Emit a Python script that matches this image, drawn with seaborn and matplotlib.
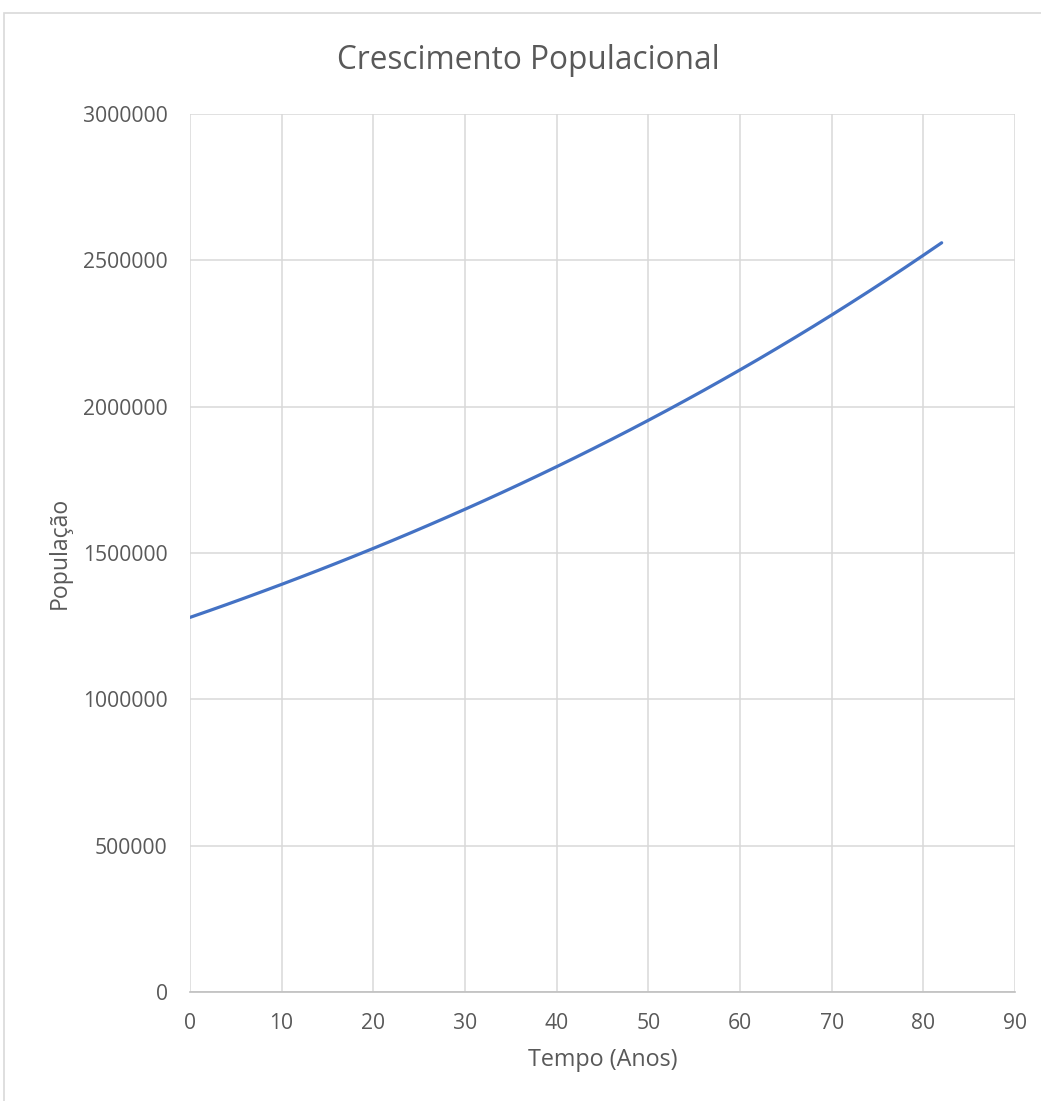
import matplotlib
matplotlib.use("Agg")
import matplotlib.pyplot as plt
from matplotlib.patches import Rectangle
import seaborn as sns
import pandas as pd

# Population over time (years)
anos = [0, 2, 4, 6, 8, 10, 12, 14, 16, 18, 20, 22, 24, 26, 28, 30, 32, 34, 36, 38, 40,
        42, 44, 46, 48, 50, 52, 54, 56, 58, 60, 62, 64, 66, 68, 70, 72, 74, 76, 78, 80, 82]
populacao = [1280000, 1301800, 1324000, 1346600, 1369600, 1392900, 1416700, 1440800,
             1465400, 1490400, 1515800, 1541600, 1567900, 1594700, 1621900, 1649500,
             1677600, 1706200, 1735300, 1764900, 1795000, 1825600, 1856800, 1888400,
             1920600, 1953400, 1986700, 2020600, 2055000, 2090100, 2125700, 2161900,
             2198800, 2236300, 2274400, 2313200, 2352700, 2392800, 2433600, 2475100,
             2517300, 2560000]

x_ticks = [0, 10, 20, 30, 40, 50, 60, 70, 80, 90]
y_ticks = [0, 500000, 1000000, 1500000, 2000000, 2500000, 3000000]

titulo = "Crescimento Populacional"
rotulo_x = "Tempo (Anos)"
rotulo_y = "População"

sns.set_style("white")
plt.rcParams["font.family"] = ["Open Sans", "DejaVu Sans"]

TXT = "#595959"
GRID = "#D9D9D9"
LINE = "#4472C4"

df = pd.DataFrame({"Tempo": anos, "Populacao": populacao})

fig = plt.figure(figsize=(10.41, 11.01), dpi=100)
fig.patch.set_facecolor("white")

# chart frame
fig.patches.append(Rectangle((4 / 1041, -0.1), 1.2, 1 - 13 / 1101 + 0.1,
                             transform=fig.transFigure, fill=False,
                             edgecolor=GRID, linewidth=1.2))

ax = fig.add_axes([190 / 1041, 1 - 992 / 1101, (1015 - 190) / 1041, (992 - 114) / 1101])

sns.lineplot(data=df, x="Tempo", y="Populacao", ax=ax, color=LINE,
             linewidth=2.3, solid_capstyle="round")

ax.set_xlim(0, 90)
ax.set_ylim(0, 3000000)
ax.set_xticks(x_ticks)
ax.set_yticks(y_ticks)
ax.set_xticklabels([str(v) for v in x_ticks])
ax.set_yticklabels([str(v) for v in y_ticks])

ax.grid(True, color=GRID, linewidth=1.1)
ax.set_axisbelow(True)
for s in ["top", "right", "left"]:
    ax.spines[s].set_visible(False)
ax.spines["bottom"].set_color("#BFBFBF")
ax.spines["bottom"].set_linewidth(1.2)

ax.tick_params(axis="both", length=0, labelsize=15.2, colors=TXT)
ax.tick_params(axis="x", pad=15)
ax.tick_params(axis="y", pad=16)

ax.set_xlabel(rotulo_x, fontsize=16.8, color=TXT, va="center")
ax.set_ylabel(rotulo_y, fontsize=16.6, color=TXT, va="center")
ax.xaxis.set_label_coords(0.5, (992 - 1060) / 878)
ax.yaxis.set_label_coords((60 - 190) / 825, 0.5)

fig.text(528 / 1041, 1 - 69 / 1101, titulo, ha="center", va="baseline",
         fontsize=22.7, color=TXT)

fig.savefig("out.png", dpi=100, facecolor="white")
